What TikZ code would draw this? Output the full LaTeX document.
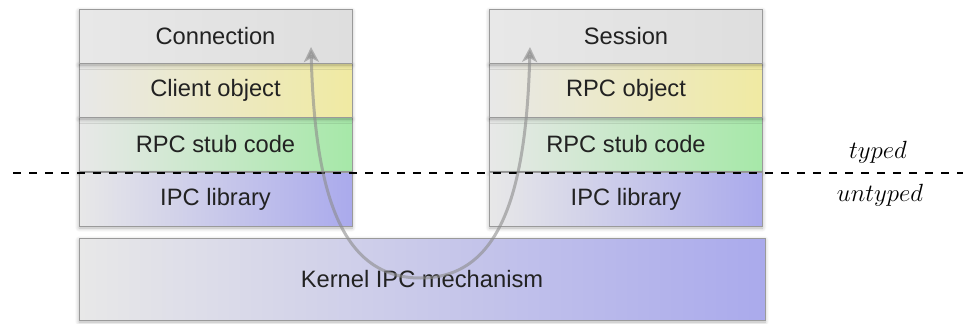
\documentclass[tikz,border=0pt]{standalone}
\usepackage{fontspec}
\setmainfont{Liberation Sans}
\usetikzlibrary{shadows.blur,arrows.meta}
\definecolor{bordergray}{HTML}{9A9A9A}
\definecolor{lightL}{HTML}{E8E8E8}
\definecolor{grayR}{HTML}{DEDEDE}
\definecolor{yellowR}{HTML}{F0EAA2}
\definecolor{greenR}{HTML}{A6E8A8}
\definecolor{blueR}{HTML}{AAAAEC}
\definecolor{textdark}{HTML}{222222}
\definecolor{arrowgray}{HTML}{8C8C8C}
\tikzset{
  layer/.style={draw=bordergray, line width=0.8pt, inner sep=0pt, rectangle,
    text=textdark, font=\fontsize{23.7pt}{28pt}\selectfont,
    blur shadow={shadow xshift=0pt, shadow yshift=-2pt, shadow blur radius=4pt, shadow blur steps=6, shadow opacity=30}},
  grayrow/.style={layer, left color=lightL, right color=grayR},
  yellowrow/.style={layer, left color=lightL, right color=yellowR},
  greenrow/.style={layer, left color=lightL, right color=greenR},
  bluerow/.style={layer, left color=lightL, right color=blueR},
  stackw/.style={minimum width=273pt, minimum height=54pt},
  divider/.style={draw=black, line width=2pt, dash pattern=on 8pt off 8pt},
  tag/.style={font=\fontsize{24.5pt}{29pt}\selectfont},
  flow/.style={draw=arrowgray, opacity=0.6, line width=3pt,
    {Stealth[length=15pt,width=15pt,inset=4pt]}-{Stealth[length=15pt,width=15pt,inset=4pt]}}
}
\begin{document}
\begin{tikzpicture}[x=1pt,y=-1pt]
\useasboundingbox (0,0) rectangle (967,324);
% left stack
\node[greenrow,stackw] (lstub) at (215.5,144) {RPC stub code};
\node[yellowrow,stackw] (lobj) at (215.5,90) {Client object};
\node[grayrow,stackw] (lconn) at (215.5,36) {Connection};
\node[bluerow,stackw] (lipc) at (215.5,199) {IPC library};
% right stack
\node[greenrow,stackw] (rstub) at (626,144) {RPC stub code};
\node[yellowrow,stackw] (robj) at (626,90) {RPC object};
\node[grayrow,stackw] (rsess) at (626,36) {Session};
\node[bluerow,stackw] (ripc) at (626,199) {IPC library};
% kernel
\node[bluerow,minimum width=686pt,minimum height=82pt] (kernel) at (422,279) {Kernel IPC mechanism};
% divider
\coordinate (dl) at (13,173);
\coordinate (dr) at (963,173);
\draw[divider] (dl) -- (dr);
\node[tag] (typed) at (878,152) {$typed$};
\node[tag] (untyped) at (880,195) {$untyped$};
% flow arrow
\coordinate (fa) at (311,47);
\coordinate (fbot) at (420.5,278);
\coordinate (fb) at (530,47);
\draw[flow] (fa) .. controls (315,200) and (344,278) .. (fbot)
  .. controls (497,278) and (526,200) .. (fb);
\end{tikzpicture}
\end{document}
